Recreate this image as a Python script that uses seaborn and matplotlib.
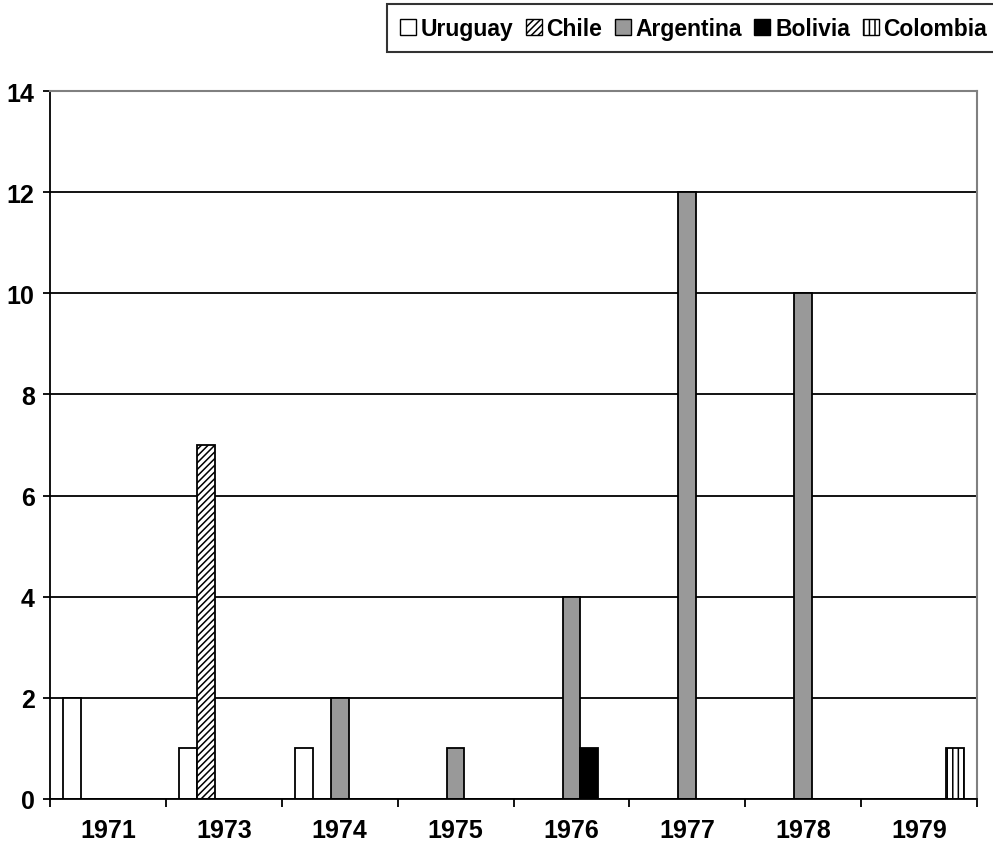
import numpy as np
import pandas as pd
import matplotlib
matplotlib.use("Agg")
import matplotlib.pyplot as plt
import seaborn as sns
from matplotlib.patches import Patch
from matplotlib.ticker import FixedLocator

# data
years = ["1971", "1973", "1974", "1975", "1976", "1977", "1978", "1979"]
countries = ["Uruguay", "Chile", "Argentina", "Bolivia", "Colombia"]
uruguay = [2, 1, 1, 0, 0, 0, 0, 0]
chile = [0, 7, 0, 0, 0, 0, 0, 0]
argentina = [0, 0, 2, 1, 4, 12, 10, 0]
bolivia = [0, 0, 0, 0, 1, 0, 0, 0]
colombia = [0, 0, 0, 0, 0, 0, 0, 1]

colors = ["white", "white", "#999999", "black", "white"]
hatches = ["", "/////", "", "", "|||"]

series = [uruguay, chile, argentina, bolivia, colombia]
rows = []
for name, vals in zip(countries, series):
    for y, v in zip(years, vals):
        rows.append({"year": y, "country": name, "count": v})
df = pd.DataFrame(rows)

sns.set_style("white")
plt.rcParams["font.family"] = ["Liberation Sans", "DejaVu Sans"]
plt.rcParams["font.weight"] = "bold"
plt.rcParams["hatch.linewidth"] = 1.1
plt.rcParams["text.color"] = "black"
plt.rcParams["xtick.color"] = "black"
plt.rcParams["ytick.color"] = "black"
plt.rcParams["xtick.labelcolor"] = "black"
plt.rcParams["ytick.labelcolor"] = "black"

fig = plt.figure(figsize=(9.93, 8.62), dpi=100)
ax = fig.add_axes([50 / 993, 1 - 800 / 862, 927 / 993, 708 / 862])

sns.barplot(data=df, x="year", y="count", hue="country", order=years,
            hue_order=countries, palette=colors, width=5 / 6.5,
            edgecolor="black", linewidth=1.3, saturation=1, ax=ax, legend=False)

# hatches per country
for cont, h in zip(ax.containers, hatches):
    for bar in cont:
        bar.set_hatch(h)

ax.set_xlim(-0.5, len(years) - 0.5)
ax.set_ylim(0, 14)
ax.set_yticks(np.arange(0, 15, 2))
ax.yaxis.grid(True, color="black", linewidth=1.3)
ax.set_axisbelow(True)
ax.set_xlabel("")
ax.set_ylabel("")

# ticks between categories, labels centred
ax.xaxis.set_minor_locator(FixedLocator(np.arange(-0.5, len(years), 1)))
ax.tick_params(axis="x", which="major", length=0, pad=14, labelsize=18,
               labelcolor="black")
ax.tick_params(axis="x", which="minor", length=6, width=1.3, color="black",
               direction="out", bottom=True)
ax.tick_params(axis="y", length=5, width=1.3, color="black", direction="out",
               left=True, labelsize=18, pad=6, labelcolor="black")
for lab in ax.get_xticklabels() + ax.get_yticklabels():
    lab.set_fontweight("bold")

for side in ["left", "bottom"]:
    ax.spines[side].set_color("black")
    ax.spines[side].set_linewidth(1.3)
for side in ["top", "right"]:
    ax.spines[side].set_color("#808080")
    ax.spines[side].set_linewidth(1.5)
ax.spines["top"].set_zorder(3)

handles = [Patch(facecolor=c, edgecolor="black", hatch=h, linewidth=1.0)
           for c, h in zip(colors, hatches)]
leg = fig.legend(handles, countries, loc="upper left",
                 bbox_to_anchor=(387 / 993, 1 - 5 / 862), ncol=5,
                 frameon=True, fancybox=False, borderaxespad=0,
                 handlelength=0.7, handleheight=0.7, handletextpad=0.2,
                 columnspacing=0.55, borderpad=0.55, labelcolor="black",
                 prop={"weight": "bold", "size": 16.5})
leg.get_frame().set_edgecolor("black")
leg.get_frame().set_linewidth(1.5)

fig.savefig("out.png", dpi=100)
